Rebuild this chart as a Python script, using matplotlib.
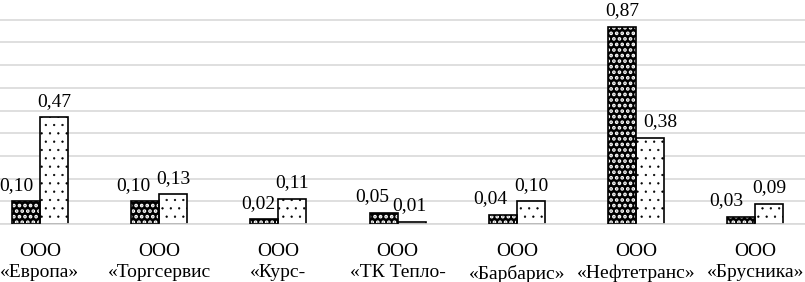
import matplotlib
matplotlib.use('Agg')
import matplotlib.pyplot as plt
import numpy as np

companies = ["ООО\n«Европа»", "ООО\n«Торгсервис", "ООО\n«Курс-", "ООО\n«ТК Тепло-",
             "ООО\n«Барбарис»", "ООО\n«Нефтетранс»", "ООО\n«Брусника»"]
series_a = [0.10, 0.10, 0.02, 0.05, 0.04, 0.87, 0.03]
series_b = [0.47, 0.13, 0.11, 0.01, 0.10, 0.38, 0.09]

# horizontal nudges of the value labels (pixels), as placed in the source
nudge_a = [-10, -12, -6, -11, -13, 0, -15]
nudge_b = [0, 0, 0, -2, 0, 10, 0]

plt.rcParams['font.family'] = ['Liberation Serif', 'DejaVu Serif']

fig = plt.figure(figsize=(8.05, 2.82), dpi=100)
ax = fig.add_axes([-0.0245, 0.2057, 1.037, 0.7943])

x = np.arange(len(companies))
w = 0.235

# dark dotted bars: black fill, white hatch, then black outline on top
plt.rcParams['hatch.linewidth'] = 1.8
ax.bar(x - w / 2, series_a, w, color='black', edgecolor='white', hatch='...', linewidth=0, zorder=2)
ax.bar(x - w / 2, series_a, w, fill=False, edgecolor='black', linewidth=1.2, zorder=3)
# light dotted bars, small sparse dots
plt.rcParams['hatch.linewidth'] = 0.4
ax.bar(x + w / 2, series_b, w, color='white', edgecolor='black', hatch='..', linewidth=1.2, zorder=2)

px = 0.72  # points per pixel at 100 dpi
for xi, v, dx in zip(x - w / 2, series_a, nudge_a):
    ax.annotate(f"{v:.2f}".replace('.', ','), (xi, v), xytext=(dx * px, 5.5), textcoords='offset points',
                ha='center', va='bottom', fontsize=14)
for xi, v, dx in zip(x + w / 2, series_b, nudge_b):
    ax.annotate(f"{v:.2f}".replace('.', ','), (xi, v), xytext=(dx * px, 5.5), textcoords='offset points',
                ha='center', va='bottom', fontsize=14)

ax.set_xlim(-0.5, len(companies) - 0.5)
ax.set_ylim(0, 0.987)
ax.set_yticks(np.arange(0, 1.0, 0.1))
ax.yaxis.grid(True, color='#d9d9d9', linewidth=1.2, zorder=0)
ax.set_axisbelow(True)
ax.tick_params(left=False, labelleft=False, bottom=False)
ax.set_xticks(x)
ax.set_xticklabels(companies, fontsize=14, linespacing=1.35)
ax.tick_params(axis='x', pad=10)
for s in ['top', 'right', 'left']:
    ax.spines[s].set_visible(False)
ax.spines['bottom'].set_color('#d9d9d9')
ax.spines['bottom'].set_linewidth(1.2)

fig.savefig('out.png', dpi=100)
